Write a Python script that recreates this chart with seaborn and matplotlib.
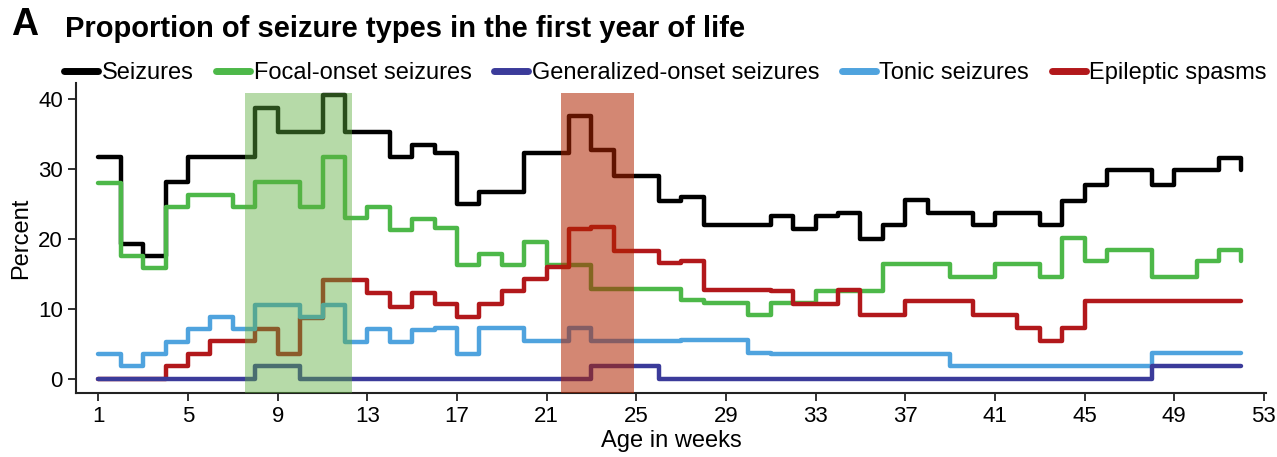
import numpy as np
import pandas as pd
import matplotlib
matplotlib.use('Agg')
import matplotlib.pyplot as plt
import seaborn as sns

weeks = list(range(1, 53))

seizures = [31.6, 19.2, 17.6, 28.1, 31.6, 31.6, 31.6, 38.6, 35.2, 35.2,
            40.5, 35.2, 35.2, 31.6, 33.4, 32.3, 25.0, 26.7, 26.7, 32.3,
            32.3, 37.5, 32.7, 29.0, 29.0, 25.4, 25.9, 21.9, 21.9, 21.9,
            23.3, 21.4, 23.3, 23.7, 19.9, 21.9, 25.6, 23.7, 23.7, 21.9,
            23.7, 23.7, 21.9, 25.4, 27.7, 29.8, 29.8, 27.7, 29.8, 29.8,
            31.5, 29.8]

focal = [28.0, 17.6, 15.8, 24.6, 26.2, 26.2, 24.6, 28.1, 28.1, 24.6,
         31.6, 22.9, 24.6, 21.2, 22.8, 21.5, 16.2, 17.9, 16.2, 19.6,
         16.2, 16.2, 12.8, 12.8, 12.8, 12.8, 11.3, 10.9, 10.9, 9.2,
         10.9, 10.9, 12.5, 12.5, 12.5, 16.4, 16.4, 16.4, 14.6, 14.6,
         16.4, 16.4, 14.6, 20.1, 16.8, 18.4, 18.4, 14.6, 14.6, 16.8,
         18.4, 16.8]

generalized = [0, 0, 0, 0, 0, 0, 0, 1.8, 1.8, 0,
               0, 0, 0, 0, 0, 0, 0, 0, 0, 0,
               0, 0, 1.8, 1.8, 1.8, 0, 0, 0, 0, 0,
               0, 0, 0, 0, 0, 0, 0, 0, 0, 0,
               0, 0, 0, 0, 0, 0, 0, 1.9, 1.9, 1.9,
               1.9, 1.9]

tonic = [3.5, 1.8, 3.5, 5.3, 7.1, 8.8, 7.1, 10.5, 10.5, 8.8,
         10.5, 5.3, 7.1, 5.3, 7.0, 7.3, 3.6, 7.3, 7.3, 5.4,
         5.4, 7.3, 5.4, 5.4, 5.4, 5.4, 5.6, 5.5, 5.5, 3.7,
         3.6, 3.6, 3.6, 3.6, 3.6, 3.6, 3.6, 3.6, 1.9, 1.9,
         1.9, 1.9, 1.9, 1.9, 1.9, 1.9, 1.9, 3.7, 3.7, 3.7,
         3.7, 3.7]

spasms = [0, 0, 0, 1.9, 3.6, 5.4, 5.4, 7.1, 3.6, 8.7,
          14.1, 14.1, 12.2, 10.3, 12.2, 10.7, 8.9, 10.7, 12.5, 14.3,
          16.0, 21.4, 21.7, 18.2, 18.2, 16.5, 16.8, 12.7, 12.7, 12.7,
          12.5, 10.7, 10.7, 12.7, 9.2, 9.2, 11.1, 11.1, 11.1, 9.2,
          9.2, 7.3, 5.4, 7.3, 11.1, 11.1, 11.1, 11.1, 11.1, 11.1,
          11.1, 11.1]

series_names = ['Seizures', 'Focal-onset seizures', 'Generalized-onset seizures',
                'Tonic seizures', 'Epileptic spasms']
series_colors = ['#000000', '#4DB849', '#3B3B9A', '#4FA3DE', '#B2181B']
draw_order = [0, 1, 4, 3, 2]

df = pd.DataFrame({'week': weeks, 'Seizures': seizures,
                   'Focal-onset seizures': focal,
                   'Generalized-onset seizures': generalized,
                   'Tonic seizures': tonic, 'Epileptic spasms': spasms})

sns.set_style('ticks')
plt.rcParams['font.family'] = ['Liberation Sans', 'DejaVu Sans']
plt.rcParams['text.color'] = 'black'
plt.rcParams['axes.labelcolor'] = 'black'
plt.rcParams['xtick.color'] = 'black'
plt.rcParams['ytick.color'] = 'black'

fig = plt.figure(figsize=(12.77, 4.57), dpi=100)
ax = fig.add_axes([0.0595, 0.140, 0.932, 0.678])

handles = {}
for z, i in enumerate(draw_order):
    name = series_names[i]
    sns.lineplot(data=df, x='week', y=name, ax=ax, color=series_colors[i],
                 drawstyle='steps-post', linewidth=3.2, legend=False, zorder=2 + z)
    handles[i] = ax.lines[-1]

# highlighted windows, drawn over the lines
ax.axvspan(7.55, 12.33, ymin=0, ymax=0.968, color='#5DAD3E', alpha=0.45, lw=0, zorder=10)
ax.axvspan(21.65, 24.9, ymin=0, ymax=0.968, color='#B02400', alpha=0.55, lw=0, zorder=10)

ax.set_xlim(0, 53.1)
ax.set_ylim(-2.0, 42.2)
ax.set_xticks(list(range(1, 54, 4)))
ax.set_yticks([0, 10, 20, 30, 40])
ax.tick_params(axis='both', labelsize=16, length=6, width=1.3, color='#222222', direction='out')
for s in ['left', 'bottom']:
    ax.spines[s].set_linewidth(1.5)
    ax.spines[s].set_color('#222222')
sns.despine(ax=ax)
ax.set_xlabel('Age in weeks', fontsize=17, labelpad=2)
ax.set_ylabel('Percent', fontsize=17, labelpad=4)

fig.legend([handles[i] for i in range(5)], series_names, loc='center',
           bbox_to_anchor=(0.521, 0.84), ncol=5, frameon=False, fontsize=17,
           handlelength=1.45, handletextpad=0.15, columnspacing=0.95,
           borderaxespad=0)
for lh in fig.legends[0].get_lines():
    lh.set_linewidth(5)

fig.text(0.009, 0.945, 'A', fontsize=27, fontweight='bold', va='center')
fig.text(0.051, 0.937, 'Proportion of seizure types in the first year of life',
         fontsize=21, fontweight='bold', va='center')

fig.savefig('out.png', dpi=100)
